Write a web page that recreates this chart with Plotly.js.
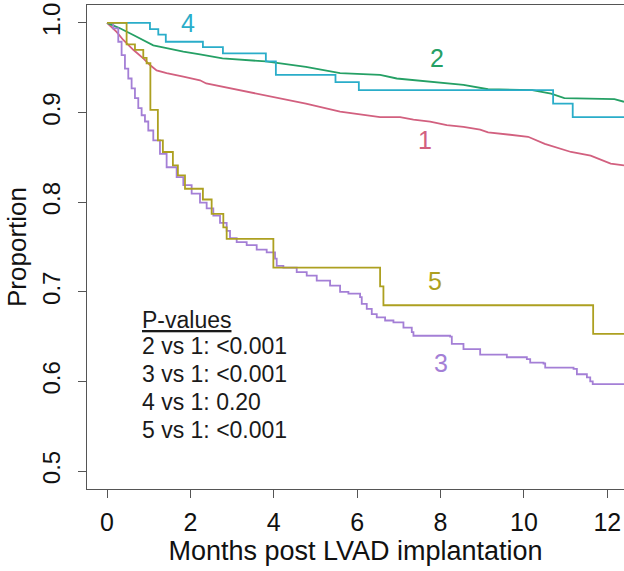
<!DOCTYPE html>
<html>
<head>
<meta charset="utf-8">
<script src="https://cdn.plot.ly/plotly-3.0.1.min.js"></script>
<style>html,body{margin:0;padding:0;background:#fff;}#chart{width:624px;height:571px;}</style>
</head>
<body>
<div id="chart"></div>
<script>
// Group 1 (pink)
const g1Months = [0,0.23,0.39,0.63,0.87,1.03,1.19,1.43,1.83,2.23,2.38,3.17,3.97,4.77,5.59,6.55,7.03,7.35,7.75,8.15,8.55,8.95,9.14,10.1,10.5,11.13,11.6,12.08,12.4];
const g1Values = [1.0,0.990,0.981,0.970,0.9605,0.953,0.947,0.944,0.940,0.936,0.9325,0.925,0.918,0.910,0.901,0.895,0.895,0.892,0.890,0.886,0.884,0.881,0.878,0.873,0.865,0.856,0.852,0.843,0.841];
// Group 2 (green)
const g2Months = [0,0.31,0.63,0.87,1.11,1.43,1.83,2.23,2.77,3.81,4.77,5.59,6.55,6.95,7.75,8.55,9.14,10.2,10.65,10.97,12.17,12.4];
const g2Values = [1.0,0.994,0.9865,0.981,0.975,0.972,0.968,0.965,0.9605,0.957,0.951,0.944,0.942,0.938,0.9345,0.931,0.926,0.925,0.921,0.916,0.915,0.912];
// Group 3 (purple)
const g3Months = [0,0.15,0.27,0.35,0.43,0.51,0.59,0.67,0.75,0.83,0.91,0.99,1.11,1.27,1.43,1.67,1.83,2.03,2.23,2.39,2.55,2.71,2.87,2.95,3.11,3.35,3.59,3.83,4.03,4.07,4.23,4.55,4.79,5.03,5.35,5.59,5.79,6.07,6.11,6.23,6.35,6.47,6.67,6.87,7.11,7.31,7.35,8.23,8.27,8.55,8.95,9.59,10.07,10.15,10.47,10.51,11.19,11.27,11.51,11.59,11.65,12.4];
const g3Values = [1.0,0.994,0.979,0.964,0.949,0.938,0.927,0.916,0.905,0.897,0.890,0.880,0.869,0.854,0.839,0.828,0.819,0.8095,0.7995,0.793,0.785,0.777,0.768,0.760,0.7555,0.752,0.747,0.744,0.737,0.729,0.727,0.722,0.718,0.7125,0.707,0.700,0.698,0.694,0.6865,0.681,0.675,0.6715,0.668,0.666,0.660,0.655,0.651,0.650,0.642,0.636,0.630,0.627,0.625,0.621,0.620,0.6155,0.614,0.608,0.6045,0.600,0.597,0.597];
// Group 4 (teal)
const g4Months = [0,1.03,1.23,1.41,2.30,2.78,3.81,4.05,5.48,6.04,10.7,11.17,12.4];
const g4Values = [1.0,0.993,0.987,0.979,0.973,0.966,0.957,0.942,0.934,0.925,0.910,0.895,0.895];
// Group 5 (olive)
const g5Months = [0,0.47,0.67,0.87,0.95,1.04,1.22,1.34,1.58,1.70,1.87,2.30,2.51,2.79,2.87,3.99,6.55,6.63,11.66,12.4];
const g5Values = [1.0,0.976,0.970,0.961,0.955,0.903,0.869,0.856,0.841,0.830,0.815,0.803,0.787,0.772,0.759,0.727,0.706,0.685,0.653,0.653];

const groupNames = ['1','2','3','4','5'];
const colors = ['#D2607F','#25A065','#A47FD6','#2AADC9','#ADA020'];
const labelMonths = [7.63,7.91,8.0,1.94,7.87];
const labelValues = [0.869,0.961,0.621,1.0,0.7125];

const xTicks = [0,2,4,6,8,10,12];
const yTicks = [0.5,0.6,0.7,0.8,0.9,1.0];
const yTickText = ['0.5','0.6','0.7','0.8','0.9','1.0'];

const pTitle = 'P-values';
const pTitleY = 0.669;
const pLines = ['2 vs 1: <0.001','3 vs 1: <0.001','4 vs 1: 0.20','5 vs 1: <0.001'];
const pValuesY = [0.639,0.608,0.577,0.546];

const series = [
  [g1Months,g1Values,'linear'],
  [g2Months,g2Values,'linear'],
  [g3Months,g3Values,'hv'],
  [g4Months,g4Values,'hv'],
  [g5Months,g5Values,'hv']
];
const traces = series.map((s,i)=>({
  x:s[0], y:s[1], type:'scatter', mode:'lines', name:groupNames[i],
  line:{color:colors[i], width:1.8, shape:s[2]}, hoverinfo:'skip'
}));

const FONT = 'Liberation Sans, Arial, Helvetica, sans-serif';
const annotations = [];
groupNames.forEach((n,i)=>annotations.push({
  x:labelMonths[i], y:labelValues[i], xref:'x', yref:'y', text:n, showarrow:false,
  font:{family:FONT, size:25, color:colors[i]}, xanchor:'center', yanchor:'middle'
}));
annotations.push({x:0.79, y:pTitleY, xref:'x', yref:'y', text:'<u>'+pTitle+'</u>', showarrow:false,
  font:{family:FONT, size:23, color:'#1a1a1a'}, xanchor:'left', yanchor:'middle'});
pLines.forEach((t,i)=>annotations.push({x:0.79, y:pValuesY[i], xref:'x', yref:'y', text:t, showarrow:false,
  font:{family:FONT, size:23, color:'#1a1a1a'}, xanchor:'left', yanchor:'middle'}));

const layout = {
  width:624, height:571,
  margin:{l:87, r:0, t:5, b:82, pad:0},
  paper_bgcolor:'#fff', plot_bgcolor:'#fff',
  showlegend:false,
  xaxis:{
    range:[-0.48,12.4], tickvals:xTicks, ticks:'outside', ticklen:8, tickwidth:1, tickcolor:'#555',
    showline:true, linecolor:'#555', linewidth:1, mirror:true, showgrid:false, zeroline:false,
    tickfont:{family:FONT, size:25, color:'#111'}, ticklabelstandoff:3, automargin:false,
    title:{text:'Months post LVAD implantation', font:{family:FONT, size:27, color:'#111'}, standoff:2}
  },
  yaxis:{
    range:[0.48,1.02], tickvals:yTicks, ticktext:yTickText, tickangle:-90, ticks:'outside', ticklen:8, tickwidth:1, tickcolor:'#555',
    showline:true, linecolor:'#555', linewidth:1, mirror:false, showgrid:false, zeroline:false,
    tickfont:{family:FONT, size:24, color:'#111'}, ticklabelstandoff:8, automargin:false,
    title:{text:'Proportion', font:{family:FONT, size:26, color:'#111'}, standoff:4}
  },
  annotations:annotations
};
Plotly.newPlot('chart', traces, layout, {displayModeBar:false, staticPlot:true});
</script>
</body>
</html>
